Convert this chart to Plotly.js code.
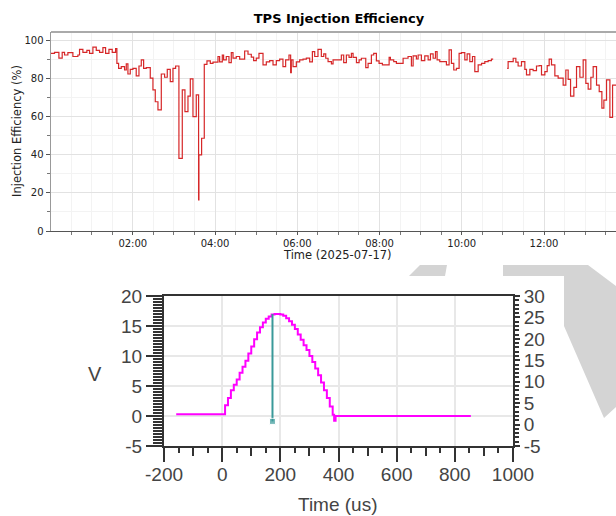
<!DOCTYPE html>
<html>
<head>
<meta charset="utf-8">
<script src="https://cdn.plot.ly/plotly-3.0.1.min.js"></script>
<style>html,body{margin:0;padding:0;background:#fff;}#chart{width:616px;height:516px;}</style>
</head>
<body>
<div id="chart"></div>
<script>
// ---- Top chart: injection efficiency (minutes after 2025-07-17 00:00, %) ----
const effMinutes = [0,5.8,12.2,17,20.4,25.3,32.6,39.9,42.3,47.2,
53,56.9,61.8,66.7,71.5,76.4,80.3,85.2,90,94.9,
96.8,99.3,103.2,108,110.5,112.9,116.3,120.2,125,129,
132.4,135.8,139.7,145.5,149.4,152.8,156.7,161.6,166.4,170.3,
174.7,178.6,182.5,187.3,192.2,196.1,200.5,203.9,207.8,212.6,
216,216.5,220.4,224.3,228.2,233.1,237,244.3,246.7,250.6,
252.5,256.4,260.3,263.7,266.2,271,275.9,283.2,288.1,292.9,
296.3,300.2,304.1,310,314.8,319.7,324.6,329.4,334.3,339.1,
343,347.9,350.3,351.3,353.8,358.6,363.5,368.4,373.2,378.1,
382,385.4,390.2,395.1,398.6,401.5,404.9,409.8,412.2,424.3,
427.7,431.6,435.5,438.9,441.4,446.3,450.2,453.5,459.9,463.3,
468.1,471.5,475.4,479.3,484.2,494,495.9,500.7,504.6,514.4,
521.6,526.5,529,533.8,536.3,541.1,546,550.9,554.3,558.2,
561.6,564,567.9,577.6,581.5,584.9,588.3,592.2,596.1,599.5,
604.4,607.8,611.7,615.6,619,623.9,628.8,633.6,638.5,643.3,
645.8,646,666.2,667.6,675,678.9,682.2,687.1,692,694.4,
699.3,704.1,709,712.9,716.3,721.2,724.6,727.5,730.9,735.8,
740.6,747.9,751.8,755.2,758.7,763.5,767.4,772.3,777.1,781,
784.4,788.3,791.7,796.6,800.5,804.4,807.3,811.2,816.1,820,
830];
const effValues = [93.5,94,91,94,92.6,93.9,91.8,92.6,95.6,94,
95,93.5,96.7,95,94,96.5,93.5,95.6,94,96,
88.2,85.6,86.5,84.7,87.9,82.6,85,85.6,81.6,86.8,
90,85.6,86,80.4,74.2,68,63.7,82.6,80.9,85,
78.6,85.6,86.8,38.2,74.2,62.8,71,80,60.2,71.6,
16.3,40,48.8,87.7,89.5,88.2,88.8,91.8,89,92.6,
90,91.8,88.6,93.9,91,91.8,90.4,94.7,93,91.5,
89.6,91,93.5,87.4,89,89.6,87.4,89.6,90.4,86.5,
90,92.6,83.3,90,86.5,89,90,90.4,91,89,
94.4,91.8,95.6,91.8,93.2,90.9,89.1,87.9,90,92.6,
88.6,92.6,91.4,93.5,91.4,88.6,90,90.9,86,88.2,
92.6,93.5,89.5,88.2,87.4,91.4,90,89.1,88.2,90.9,
91.8,86.8,92.1,90.5,92.6,89.6,92.1,90,93.2,90.9,
94.4,90,89.1,87.4,95.3,88.2,84.7,85.6,93.5,93.9,
90,93.2,89.1,91.8,83.9,87.4,88.2,89.1,89.6,90.4,
90.4,null,85.6,89.1,90.9,88.8,86.8,89.1,85,82.1,
85,84.4,86.8,87,82.1,83.9,87,90.4,87.4,81.6,
80.4,76.8,84.7,79.8,71,75.6,86.5,80.9,90,77.7,
74.6,80.9,86.5,76.8,73.3,64.6,68.9,79.5,59.8,76.8,
76.8];
const dayStart = "2025-07-17";
const topTickFormat = "%H:%M";

// ---- Bottom chart: waveform (us, V) ----
const waveT = [-158,8,10,20,30,40,50,60,70,80,90,100,110,120,130,140,150,160,170,180,190,200,
210,220,230,240,250,260,270,280,290,300,310,320,330,340,350,360,370,380,385,390,855];
const waveV = [0.3,0.3,1.8,3.0,4.3,5.2,6.1,7.2,8.2,9.2,10.4,11.6,12.8,13.9,14.8,15.6,16.2,16.6,16.9,17.0,17.0,16.9,
16.7,16.3,15.8,15.2,14.5,13.6,12.7,11.8,11.0,10.0,9.0,7.9,6.8,5.6,4.3,3.0,1.6,0.2,-0.8,0,0];
const markerT = [173,173];
const markerV = [17,-0.9];
const scopeXTicks = [-200,0,200,400,600,800,1000];
const scopeXLabels = ["-200","0","200","400","600","800","1000"];
const scopeLTicks = [-5,0,5,10,15,20];
const scopeLLabels = ["-5","0","5","10","15","20"];
const scopeRTicks = [-5,0,5,10,15,20,25,30];
const scopeRLabels = ["-5","0","5","10","15","20","25","30"];

// ---- helpers ----
const W = 616, H = 516;
const X = px => px / W;
const Y = py => 1 - py / H;
function minToDate(m) {
  const base = Date.UTC(2025, 6, 17, 0, 0, 0);
  const d = new Date(base + Math.round(m * 60) * 1000);
  const p = n => String(n).padStart(2, "0");
  return d.getUTCFullYear() + "-" + p(d.getUTCMonth() + 1) + "-" + p(d.getUTCDate()) + " " +
    p(d.getUTCHours()) + ":" + p(d.getUTCMinutes()) + ":" + p(d.getUTCSeconds());
}
const effX = effMinutes.map(minToDate);

const scopeFont = {family: "Liberation Sans, Arial, sans-serif", size: 19, color: "#444"};
const topFont = {family: "DejaVu Sans, sans-serif", size: 10, color: "#222"};

const data = [
  {x: effX, y: effValues, xaxis: "x", yaxis: "y", type: "scatter", mode: "lines",
   line: {shape: "hv", color: "#d62728", width: 1.2}, connectgaps: false, hoverinfo: "skip"},
  {x: waveT, y: waveV, xaxis: "x2", yaxis: "y2", type: "scatter", mode: "lines",
   line: {shape: "hv", color: "#ff00ff", width: 2}, hoverinfo: "skip"},
  {x: markerT, y: markerV, xaxis: "x2", yaxis: "y2", type: "scatter", mode: "lines+markers",
   line: {color: "#3a9a9a", width: 2}, marker: {symbol: "square", size: [0, 6], color: "#3a9a9a"}, hoverinfo: "skip"},
  {x: [-1000], y: [-100], xaxis: "x2", yaxis: "y3", type: "scatter", mode: "markers",
   marker: {size: 1, opacity: 0}, hoverinfo: "skip"},
  {x: [-1000], y: [-100], xaxis: "x3", yaxis: "y2", type: "scatter", mode: "markers",
   marker: {size: 1, opacity: 0}, hoverinfo: "skip"}
];

const layout = {
  width: W, height: H,
  margin: {l: 0, r: 0, t: 0, b: 0},
  paper_bgcolor: "#ffffff", plot_bgcolor: "#ffffff",
  showlegend: false,
  title: {text: "<b>TPS Injection Efficiency</b>", x: X(339), xanchor: "center", xref: "paper",
          y: Y(18), yanchor: "middle", yref: "paper",
          font: {family: "DejaVu Sans, sans-serif", size: 13, color: "#000"}},
  xaxis: {
    type: "date", domain: [X(51), 1], anchor: "y",
    range: [dayStart + " 00:00:40", dayStart + " 13:45:00"],
    tick0: dayStart + " 00:00", dtick: 7200000, tickformat: topTickFormat,
    ticks: "outside", ticklen: 3, tickcolor: "#555",
    showline: true, linecolor: "#555", linewidth: 1,
    showgrid: true, gridcolor: "#e2e2e2", gridwidth: 1, zeroline: false,
    minor: {dtick: 1800000, ticks: "outside", ticklen: 2.5, tickcolor: "#777", showgrid: true, gridcolor: "#f3f3f3"},
    tickfont: topFont
  },
  yaxis: {
    domain: [Y(231), Y(32)], anchor: "x",
    range: [0, 104.7], dtick: 20,
    ticks: "outside", ticklen: 4, tickcolor: "#555",
    showline: true, linecolor: "#999", linewidth: 1.5,
    showgrid: true, gridcolor: "#e2e2e2", zeroline: false,
    minor: {dtick: 10, ticks: "outside", ticklen: 2.5, tickcolor: "#777", showgrid: true, gridcolor: "#f3f3f3"},
    tickfont: topFont
  },
  xaxis2: {
    domain: [X(164), X(513)], anchor: "y2",
    range: [-200, 1000], tickmode: "array", tickvals: scopeXTicks, ticktext: scopeXLabels,
    ticks: "outside", ticklen: 14, tickwidth: 2, tickcolor: "#333", ticklabelstandoff: -4,
    showline: true, mirror: true, linecolor: "#333", linewidth: 2,
    showgrid: true, gridcolor: "#e8e8e8", gridwidth: 2, zeroline: false,
    minor: {tickmode: "linear", tick0: 0, dtick: 50, ticks: "outside", ticklen: 5, tickwidth: 2, tickcolor: "#333", showgrid: false},
    tickfont: scopeFont
  },
  xaxis3: {
    overlaying: "x2", anchor: "y2",
    range: [-200, 1000], tick0: 0, dtick: 100,
    ticks: "outside", ticklen: 9, tickwidth: 2, tickcolor: "#333",
    showticklabels: false, showgrid: false, showline: false, zeroline: false
  },
  yaxis2: {
    domain: [Y(446), Y(296)], anchor: "x2",
    range: [-5, 20], tickmode: "array", tickvals: scopeLTicks, ticktext: scopeLLabels,
    ticks: "outside", ticklen: 16, tickwidth: 2, tickcolor: "#333",
    showline: true, linecolor: "#333", linewidth: 2,
    showgrid: true, gridcolor: "#e8e8e8", gridwidth: 2, zeroline: false,
    minor: {tickmode: "linear", tick0: 0, dtick: 0.5, ticks: "outside", ticklen: 9, tickwidth: 2, tickcolor: "#333", showgrid: false},
    tickfont: scopeFont
  },
  yaxis3: {
    overlaying: "y2", side: "right", anchor: "x2",
    range: [-5, 30], tickmode: "array", tickvals: scopeRTicks, ticktext: scopeRLabels,
    ticks: "outside", ticklen: 5, tickwidth: 2, tickcolor: "#333",
    showline: true, linecolor: "#333", linewidth: 2,
    showgrid: false, zeroline: false,
    minor: {tickmode: "linear", tick0: 0, dtick: 1, ticks: "outside", ticklen: 4, tickwidth: 2, tickcolor: "#333", showgrid: false},
    tickfont: scopeFont
  },
  shapes: [
    {type: "path", xref: "paper", yref: "paper", layer: "below", fillcolor: "#d4d4d4", line: {width: 0},
     path: `M ${X(420)} ${Y(265)} L ${X(447)} ${Y(265)} L ${X(445)} ${Y(276)} L ${X(409)} ${Y(276)} Z`},
    {type: "path", xref: "paper", yref: "paper", layer: "below", fillcolor: "#d4d4d4", line: {width: 0},
     path: `M ${X(503)} ${Y(265)} L ${X(588)} ${Y(265)} L ${X(616)} ${Y(286)} L ${X(616)} ${Y(407)} L ${X(604)} ${Y(418)} L ${X(564)} ${Y(326)} L ${X(564)} ${Y(276)} L ${X(503)} ${Y(276)} Z`},
    {type: "line", xref: "paper", yref: "paper", x0: X(51), x1: 1, y0: Y(32), y1: Y(32),
     line: {color: "#aaaaaa", width: 2}}
  ],
  annotations: [
    {text: "Time (2025-07-17)", xref: "paper", yref: "paper", x: X(337.5), y: Y(255),
     xanchor: "center", yanchor: "middle", showarrow: false,
     font: {family: "DejaVu Sans, sans-serif", size: 11.5, color: "#222"}},
    {text: "Injection Efficiency (%)", xref: "paper", yref: "paper", x: X(17), y: Y(131),
     xanchor: "center", yanchor: "middle", textangle: -90, showarrow: false,
     font: {family: "DejaVu Sans, sans-serif", size: 11.5, color: "#222"}},
    {text: "V", xref: "paper", yref: "paper", x: X(95), y: Y(374),
     xanchor: "center", yanchor: "middle", showarrow: false, font: {family: scopeFont.family, size: 20, color: "#444"}},
    {text: "Time (us)", xref: "paper", yref: "paper", x: X(338), y: Y(504),
     xanchor: "center", yanchor: "middle", showarrow: false, font: {family: scopeFont.family, size: 19, color: "#444"}}
  ]
};

Plotly.newPlot("chart", data, layout, {displayModeBar: false, staticPlot: true});
</script>
</body>
</html>
